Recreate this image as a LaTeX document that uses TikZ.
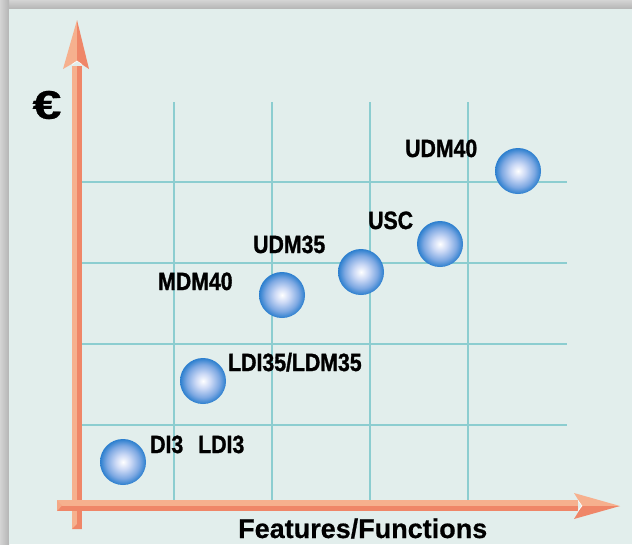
\documentclass[tikz,border=0pt]{standalone}
\usepackage{fontspec}
\usepackage{graphicx}
\newfontfamily\labfont{Liberation Sans}[FakeStretch=0.85,FakeBold=1.2]
\newfontfamily\axfont{Liberation Sans}[FakeBold=0.6]
\definecolor{bgpanel}{RGB}{226,238,236}
\definecolor{framegray}{RGB}{180,180,180}
\definecolor{framelight}{RGB}{212,212,212}
\definecolor{gridc}{RGB}{140,205,208}
\definecolor{arlight}{RGB}{246,176,142}
\definecolor{ardark}{RGB}{239,134,104}
\definecolor{sphinner}{RGB}{205,218,246}
\definecolor{sphmid}{RGB}{125,168,226}
\definecolor{sphedge}{RGB}{42,126,206}
\pgfdeclareradialshading{spherefill}{\pgfpoint{0bp}{0bp}}{color(0bp)=(white); color(8bp)=(sphinner); color(18bp)=(sphmid); color(25bp)=(sphedge); color(50bp)=(sphedge)}
\begin{document}
\begin{tikzpicture}[x=1pt,y=-1pt,
  gridline/.style={draw=gridc, line width=1.6pt},
  sph/.style={circle, minimum size=46pt, inner sep=0pt, shading=spherefill},
  lab/.style={font=\labfont\bfseries\fontsize{25}{25}\selectfont, inner sep=0pt, anchor=base west},
  axlab/.style={font=\axfont\bfseries\fontsize{27}{27}\selectfont, inner sep=0pt, anchor=base west}]
\useasboundingbox (0,0) rectangle (632,544);
% frame and panel
\fill[framelight] (0,0) rectangle (632,544);
\shade[top color=framelight, bottom color=framegray] (0,0) rectangle (632,9);
\shade[left color=framelight, right color=framegray] (0,0) rectangle (9,544);
\fill[bgpanel] (9,9) rectangle (632,544);
% grid
\foreach \gx in {174,272,370,468} \draw[gridline] (\gx,102) -- (\gx,500);
\foreach \gy in {182,263,344,425} \draw[gridline] (82,\gy) -- (567,\gy);
% vertical axis arrow
\fill[arlight] (72,66) rectangle (77,529);
\fill[ardark] (77,66) rectangle (82,529);
\fill[ardark] (72,529) -- (82,529) -- (77,524) -- cycle;
\fill[arlight] (77,20) -- (63,69) -- (77,61) -- cycle;
\fill[ardark] (77,20) -- (89,69) -- (77,61) -- cycle;
\draw[white, line width=0.6pt] (72,64.5) -- (77,61) -- (82,64.5);
% horizontal axis arrow
\fill[arlight] (57,500) rectangle (578,505.5);
\fill[ardark] (57,505.5) rectangle (578,511);
\fill[arlight!80!ardark] (57,500) -- (57,511) -- (62,505.5) -- cycle;
\fill[arlight] (620,506) -- (574,493) -- (582,506) -- cycle;
\fill[ardark] (620,506) -- (574,519) -- (582,506) -- cycle;
\draw[white, line width=0.6pt] (578,500.5) -- (582,506) -- (578,510.5);
% axis labels
\node[font=\axfont\bfseries\fontsize{40}{40}\selectfont, inner sep=0pt] (euro) at (47,105) {\scalebox{1.3}[1]{€}};
\node[axlab] (xlab) at (238,538) {Features/Functions};
% spheres
\node[sph] (di3) at (123,462) {};
\node[sph] (ldi35) at (203,381) {};
\node[sph] (mdm40) at (282,295) {};
\node[sph] (udm35) at (361,272) {};
\node[sph] (usc) at (440,244) {};
\node[sph] (udm40) at (518,171) {};
% labels
\node[lab] (tdi3) at (150,453) {DI3\hspace{15pt}LDI3};
\node[lab] (tldi35) at (228,371) {LDI35/LDM35};
\node[lab] (tmdm40) at (158,290) {MDM40};
\node[lab] (tudm35) at (253,253) {UDM35};
\node[lab] (tusc) at (368,229) {USC};
\node[lab] (tudm40) at (405,157) {UDM40};
\end{tikzpicture}
\end{document}
